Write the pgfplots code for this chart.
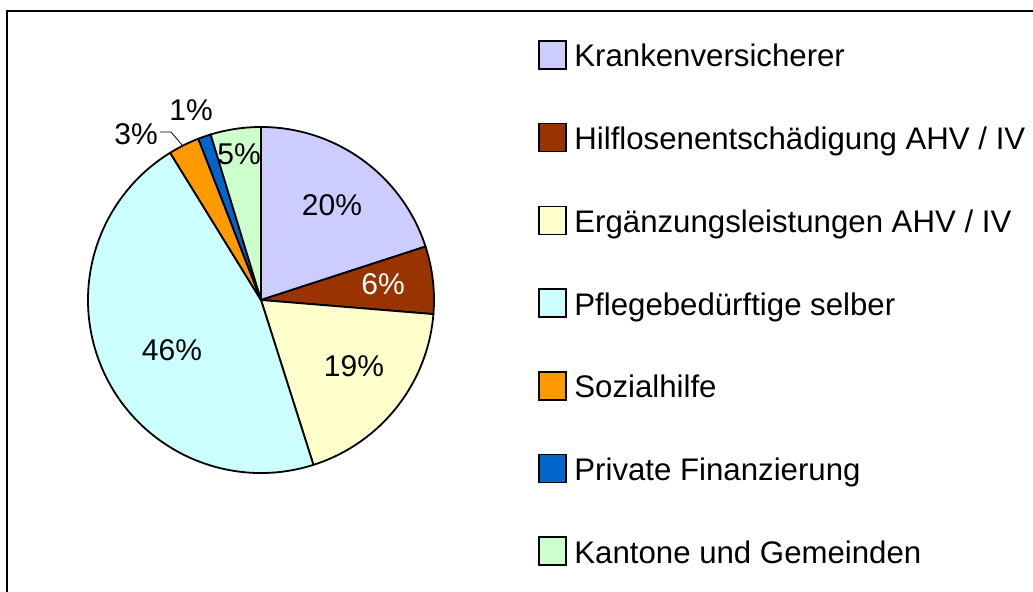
\documentclass[border=0pt]{standalone}
\usepackage{pgfplots}
\pgfplotsset{compat=1.18}
\usepackage{pgfplotstable}
\usepackage{fontspec}
\setmainfont{Liberation Sans}

\definecolor{kranken}{RGB}{204,204,255}
\definecolor{hilflos}{RGB}{153,51,0}
\definecolor{ergaenz}{RGB}{255,255,204}
\definecolor{pflege}{RGB}{204,255,255}
\definecolor{sozial}{RGB}{255,153,0}
\definecolor{privat}{RGB}{0,102,204}
\definecolor{kanton}{RGB}{204,255,204}

% share in percent, clockwise from 12 o'clock; lx/ly = label position (pixel frame)
\pgfplotstableread[col sep=comma]{
name,share,col,lx,ly,tc
Krankenversicherer,20.0,kranken,332,205,black
Hilflosenentschädigung AHV / IV,6.3,hilflos,383,284,white
Ergänzungsleistungen AHV / IV,18.8,ergaenz,354,366,black
Pflegebedürftige selber,46.1,pflege,172,350,black
Sozialhilfe,2.9,sozial,136,134,black
Private Finanzierung,1.2,privat,191,110,black
Kantone und Gemeinden,4.7,kanton,239,154,black
}\piedata

\tikzset{
  pct/.style={font=\fontsize{15}{18}\selectfont, inner sep=0pt},
  leg/.style={font=\fontsize{15.6}{18}\selectfont, inner sep=0pt, anchor=base west},
}

\begin{document}
\begin{tikzpicture}
\begin{axis}[
    hide axis,
    scale only axis,
    width=516.5pt, height=296pt,
    xmin=0, xmax=1033,
    ymin=0, ymax=592,
    y dir=reverse,
]
% chart frame (right and bottom edge lie outside the picture)
\draw[line width=0.7pt] (axis cs:7,592) -- (axis cs:7,11) -- (axis cs:1033,11);

\pgfplotstablegetrowsof{\piedata}
\pgfmathtruncatemacro\nrows{\pgfplotsretval-1}
\gdef\angstart{90}
\foreach \i in {0,...,\nrows} {
  \pgfplotstablegetelem{\i}{share}\of\piedata \let\val\pgfplotsretval
  \pgfplotstablegetelem{\i}{col}\of\piedata \let\col\pgfplotsretval
  \pgfplotstablegetelem{\i}{name}\of\piedata \let\name\pgfplotsretval
  \pgfplotstablegetelem{\i}{lx}\of\piedata \let\lx\pgfplotsretval
  \pgfplotstablegetelem{\i}{ly}\of\piedata \let\ly\pgfplotsretval
  \pgfplotstablegetelem{\i}{tc}\of\piedata \let\tc\pgfplotsretval
  \pgfmathsetmacro\angend{\angstart-3.6*\val}
  \pgfmathtruncatemacro\pctval{round(\val)}
  \pgfmathsetmacro\legy{55+82.7*\i}
  \edef\slice{%
    \noexpand\filldraw[fill=\col, draw=black, line width=0.9pt, line join=round]
      (axis cs:261,300) -- ++(\angstart:86.5pt)
      arc[start angle=\angstart, end angle=\angend, radius=86.5pt] -- cycle;
    \noexpand\node[pct, text=\tc] at (axis cs:\lx,\ly) {\pctval\noexpand\%};
    \noexpand\filldraw[fill=\col, draw=black, line width=0.8pt]
      (axis cs:539,\legy-14) rectangle (axis cs:566,\legy+14);
    \noexpand\node[leg] at (axis cs:574,\legy+12) {\name};
  }%
  \slice
  \global\let\angstart\angend
}
% leader line for the 3% label
\draw[line width=0.4pt] (axis cs:160,132) -- (axis cs:171,132) -- (axis cs:182,145);
\end{axis}
\pgfresetboundingbox
\useasboundingbox (current axis.south west) rectangle (current axis.north east);
\end{tikzpicture}
\end{document}
